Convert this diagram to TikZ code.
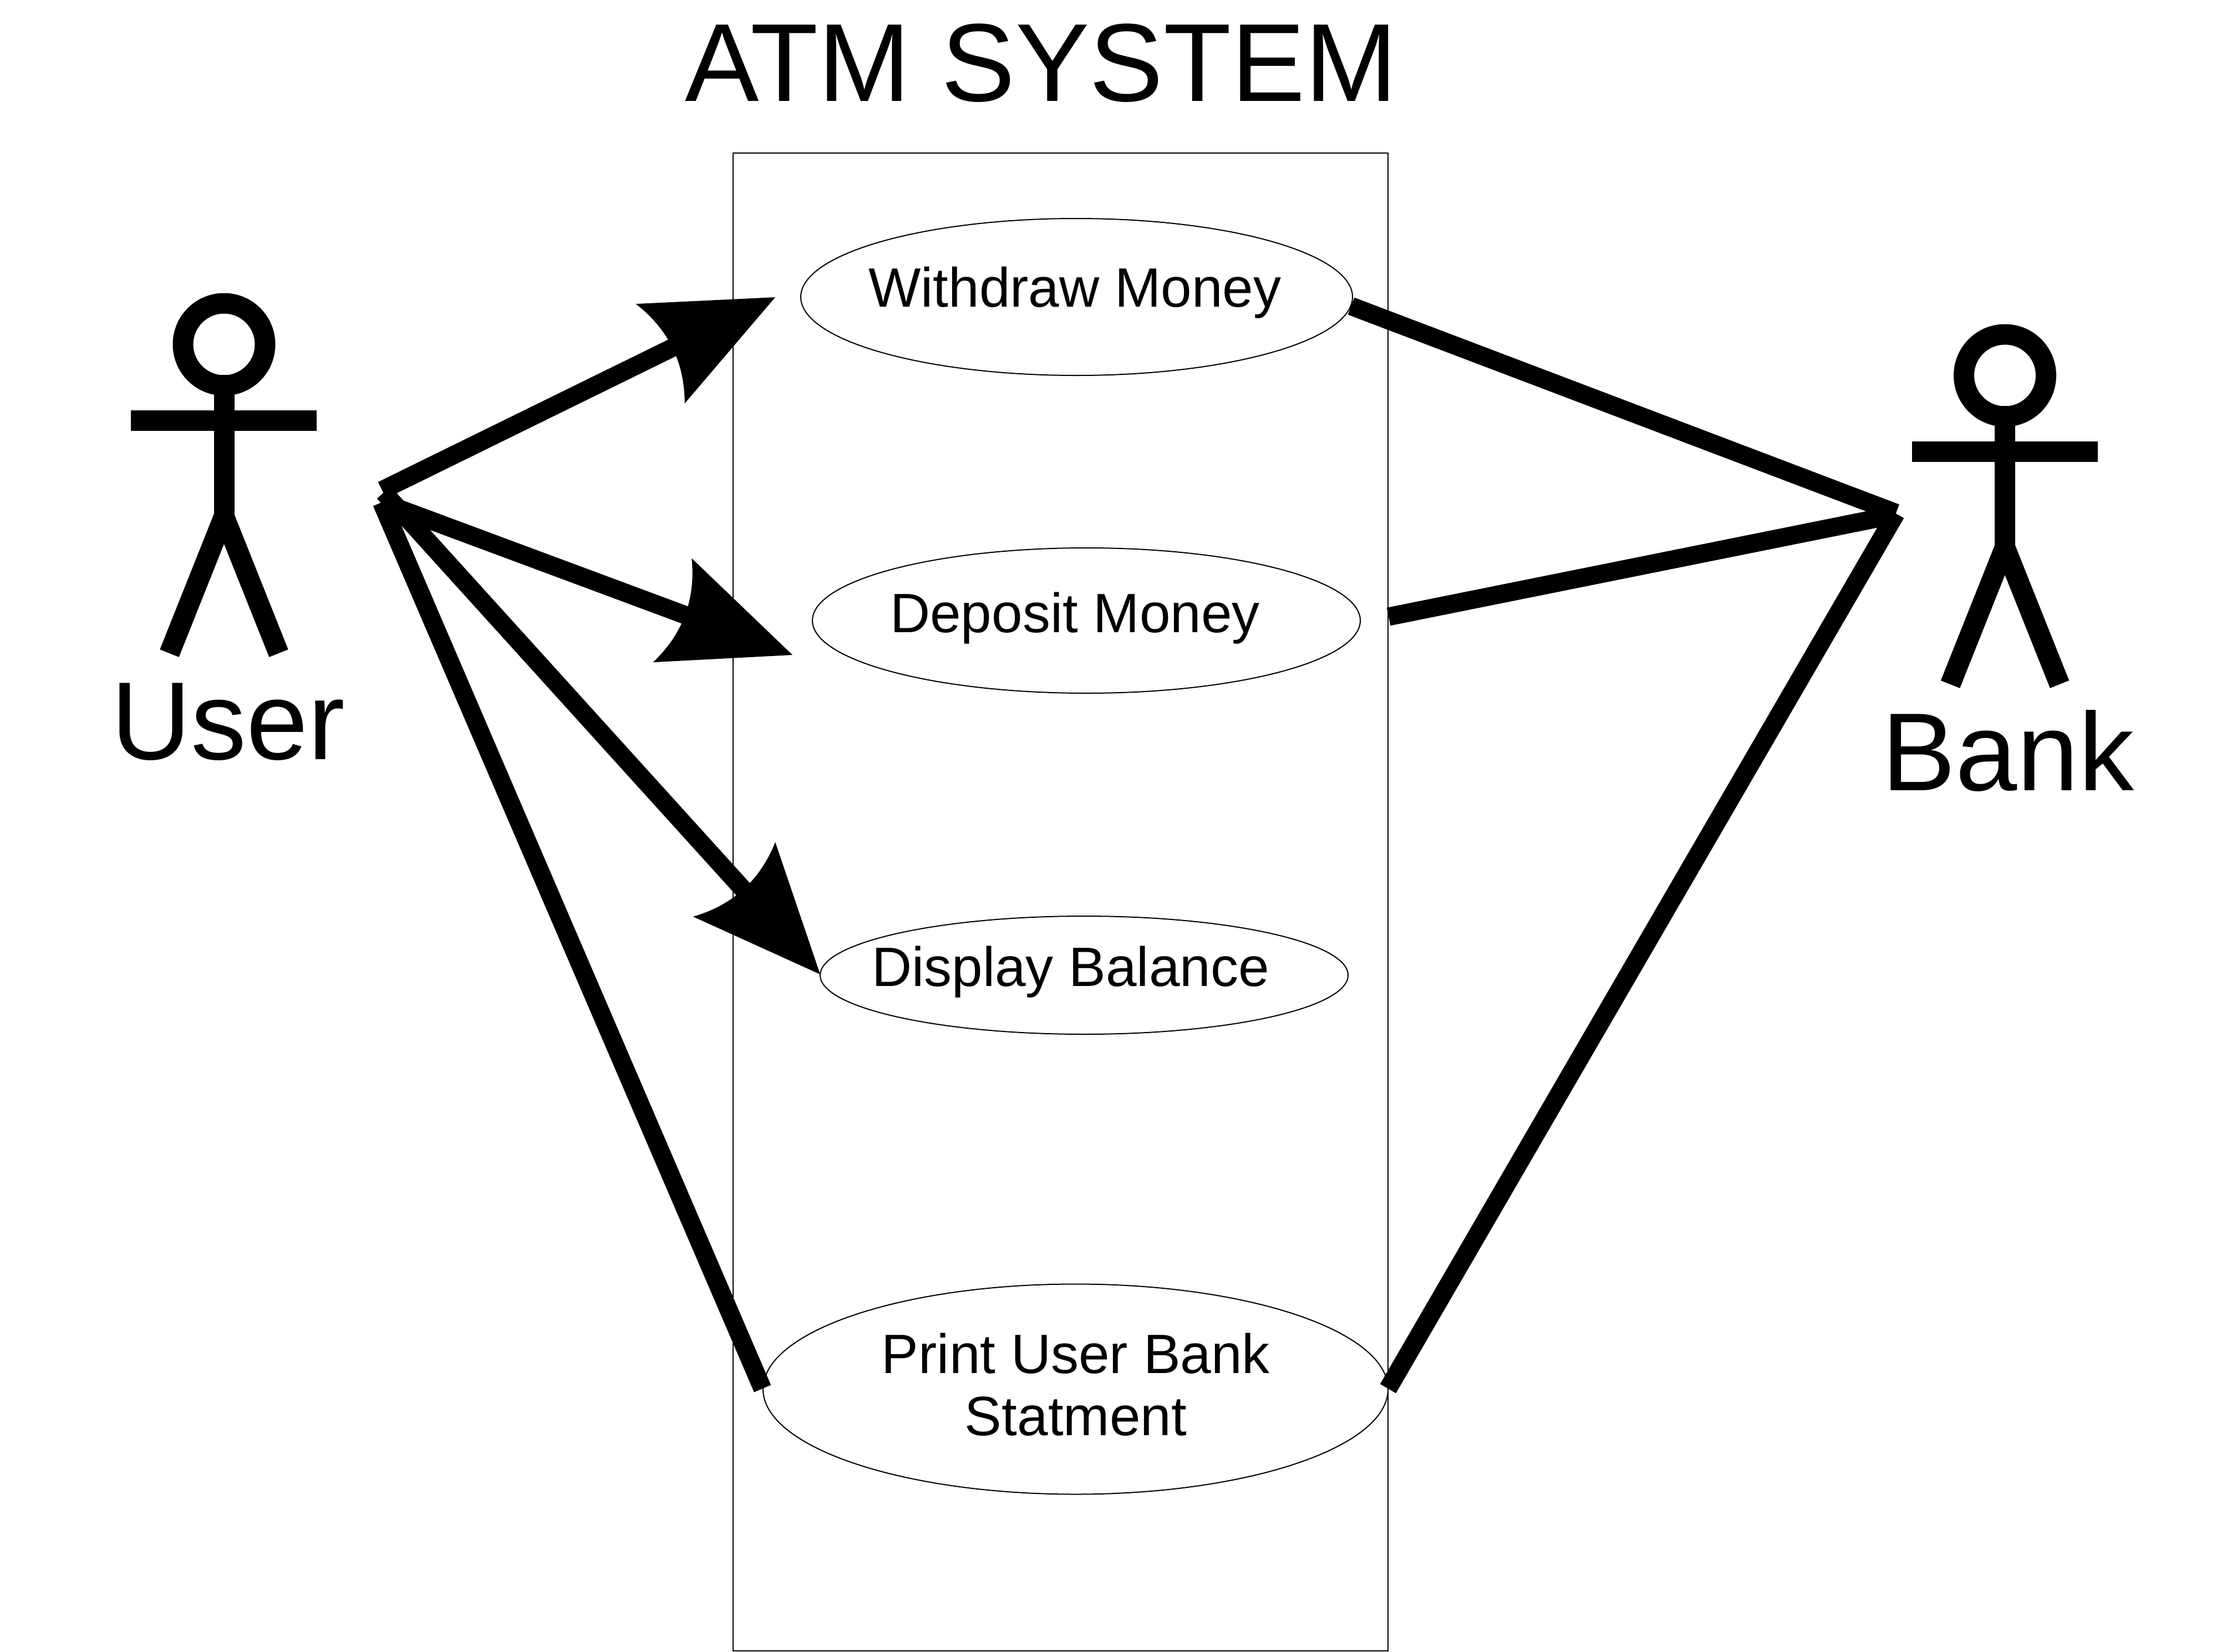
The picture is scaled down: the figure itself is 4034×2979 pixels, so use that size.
\documentclass[tikz,border=0pt]{standalone}
\usepackage{fontspec}
\setmainfont{Liberation Sans}
\usetikzlibrary{shapes.geometric}
\pgfdeclarearrow{
  name=CurvedHead,
  setup code={
    \pgfarrowssettipend{0pt}
    \pgfarrowssetlineend{-200pt}
    \pgfarrowssetbackend{-231pt}
    \pgfarrowssetvisualbackend{-200pt}
    \pgfarrowshullpoint{0pt}{0pt}
    \pgfarrowshullpoint{-231pt}{100pt}
    \pgfarrowshullpoint{-231pt}{-100pt}
  },
  drawing code={
    \pgfpathmoveto{\pgfpointorigin}
    \pgfpathlineto{\pgfqpoint{-231pt}{100pt}}
    \pgfpathcurveto{\pgfqpoint{-198.4pt}{33.3pt}}{\pgfqpoint{-198.4pt}{-33.3pt}}{\pgfqpoint{-231pt}{-100pt}}
    \pgfpathclose
    \pgfusepathqfill
  }
}
\tikzset{
  thinline/.style={draw=black,line width=2pt},
  usecase/.style={thinline,ellipse,inner sep=0pt,outer sep=0pt},
  boundary/.style={thinline,rectangle,inner sep=0pt,outer sep=0pt,minimum width=1181pt,minimum height=2701pt},
  casetext/.style={font=\fontsize{100}{112}\selectfont,inner sep=0pt,outer sep=0pt,anchor=base west},
  bigtext/.style={font=\fontsize{200}{220}\selectfont,inner sep=0pt,outer sep=0pt,anchor=base west},
  assoc/.style={line width=33pt,line cap=butt},
  assocarrow/.style={assoc,-{CurvedHead}},
  actorfig/.pic={
    \draw[line width=37pt] (0,0) circle[radius=74pt];
    \draw[line width=37pt] (0,55) -- (0,310);
    \draw[line width=37pt] (-168,137.5) -- (167,137.5);
    \draw[line width=37pt,miter limit=10] (-98.5,557) -- (0,310) -- (98.5,557);
  }
}
\begin{document}
\begin{tikzpicture}[x=1pt,y=-1pt]
\useasboundingbox (0,0) rectangle (4034,2979);
\node[boundary] (system) at (1912.5,1626) {};
\node[usecase,minimum width=995pt,minimum height=283pt] (withdraw) at (1941.5,535.5) {};
\node[usecase,minimum width=988pt,minimum height=262pt] (deposit) at (1959,1119) {};
\node[usecase,minimum width=952pt,minimum height=213pt] (display) at (1955,1758.5) {};
\node[usecase,minimum width=1127pt,minimum height=379pt] (print) at (1939.5,2505) {};
\node[bigtext] (title) at (1235,182) {ATM SYSTEM};
\node[casetext] (withdrawtext) at (1566,553) {Withdraw Money};
\node[casetext] (deposittext) at (1605,1140) {Deposit Money};
\node[casetext] (displaytext) at (1572,1778) {Display Balance};
\node[casetext,align=center,anchor=base] (printtext) at (1940,2588) {Print User Bank\\Statment};
\pic at (404,621) {actorfig};
\pic at (3615.5,677) {actorfig};
\node[bigtext] (user) at (200,1369) {User};
\node[bigtext] (bank) at (3393,1425.5) {Bank};
\coordinate (ua) at (689,884);
\coordinate (ub) at (692,907);
\coordinate (uc) at (692,888);
\coordinate (ud) at (688,906);
\coordinate (wtip) at (1398,536);
\coordinate (dtip) at (1429,1181);
\coordinate (btip) at (1479,1757);
\coordinate (pleft) at (1375,2504);
\coordinate (wright) at (2436.5,552);
\coordinate (dright) at (2504,1112);
\coordinate (pright) at (2503,2504);
\coordinate (ba) at (3419,925);
\coordinate (bb) at (3419,928);
\coordinate (bc) at (3419,926);
\draw[assocarrow] (ua) -- (wtip);
\draw[assocarrow] (ub) -- (dtip);
\draw[assocarrow] (uc) -- (btip);
\draw[assoc] (ud) -- (pleft);
\draw[assoc] (wright) -- (ba);
\draw[assoc] (dright) -- (bb);
\draw[assoc] (pright) -- (bc);
\end{tikzpicture}
\end{document}
